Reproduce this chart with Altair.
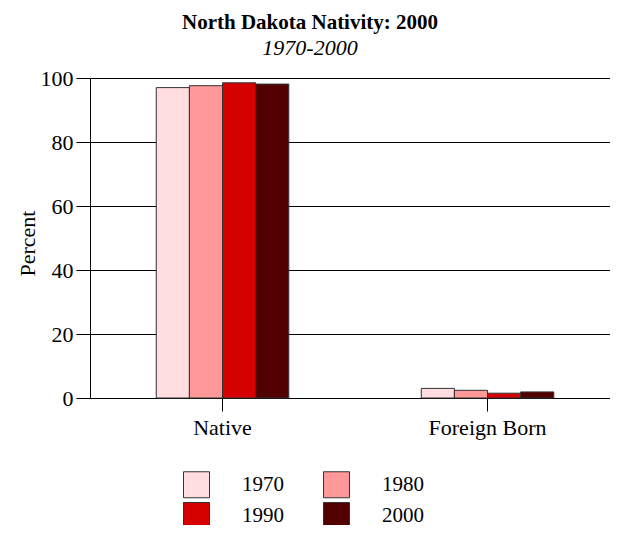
import altair as alt
import pandas as pd

categories = ["Native", "Foreign Born"]
years = ["1970", "1980", "1990", "2000"]
native = [97.0, 97.6, 98.5, 98.1]
foreign = [3.0, 2.4, 1.5, 1.9]
colors = ["#FFDDE0", "#FF9999", "#D50000", "#530000"]

rows = []
for y, v in zip(years, native):
    rows.append({"category": "Native", "year": y, "value": v})
for y, v in zip(years, foreign):
    rows.append({"category": "Foreign Born", "year": y, "value": v})
df = pd.DataFrame(rows)

FONT = "Liberation Serif"
FS = 22

chart = alt.Chart(df).mark_bar(stroke="#333333", strokeWidth=1).encode(
    x=alt.X("category:N", sort=categories, title=None,
            scale=alt.Scale(paddingInner=0.5, paddingOuter=0.2311, align=0.541),
            axis=alt.Axis(labelAngle=0, labelFontSize=FS, labelFont=FONT,
                          labelColor="black", tickSize=13, tickColor="black",
                          domainColor="black", labelPadding=6, grid=False)),
    xOffset=alt.XOffset("year:N", sort=years,
                        scale=alt.Scale(paddingInner=0, paddingOuter=0)),
    y=alt.Y("value:Q", title="Percent",
            scale=alt.Scale(domain=[0, 100]),
            axis=alt.Axis(values=[0, 20, 40, 60, 80, 100], labelFontSize=FS,
                          labelFont=FONT, labelColor="black", tickSize=14,
                          tickColor="black", domainColor="black",
                          gridColor="black", gridOpacity=1, labelPadding=3,
                          titleFont=FONT, titleFontSize=FS, titleFontWeight="normal",
                          titleColor="black", titlePadding=1, titleY=165)),
    color=alt.Color("year:N", sort=years,
                    scale=alt.Scale(domain=years, range=colors),
                    legend=alt.Legend(title=None, orient="none", legendX=93, legendY=393,
                                      direction="horizontal",
                                      columns=2, symbolType="square", symbolSize=676,
                                      symbolStrokeColor="#333333", symbolStrokeWidth=1,
                                      labelFont=FONT, labelFontSize=FS - 1, labelColor="black",
                                      labelOffset=32, columnPadding=37, rowPadding=0,
                                      padding=0, symbolOpacity=1)),
).properties(
    width=520,
    height=320,
    title=alt.TitleParams(
        text="North Dakota Nativity: 2000",
        subtitle="1970-2000",
        font=FONT, fontSize=21, fontWeight="bold", color="black",
        subtitleFont=FONT, subtitleFontSize=FS, subtitleFontStyle="italic",
        subtitleColor="black", subtitlePadding=5,
        anchor="middle", dx=-40, offset=8,
    ),
    autosize=alt.AutoSizeParams(type="none"),
    padding={"left": 82, "top": 70, "right": 0, "bottom": 127},
).configure_view(stroke=None).configure_axis(
    domainWidth=1, tickWidth=1, gridWidth=1
)

chart.save("out.html", embed_options={"renderer": "svg", "actions": False})
